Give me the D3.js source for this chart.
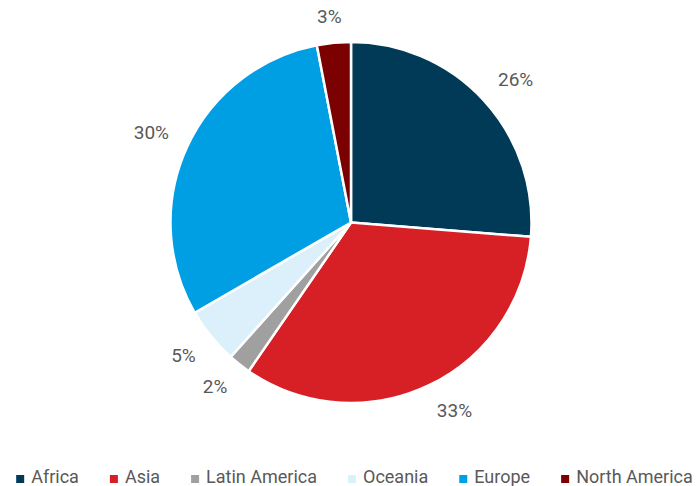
<!DOCTYPE html>
<html>
<head>
<meta charset="utf-8">
<script src="https://cdn.jsdelivr.net/npm/d3@7"></script>
<style>
  html, body { margin: 0; padding: 0; background: #fff; }
  svg text { font-family: Roboto, "Noto Sans", sans-serif; fill: #595959; }
</style>
</head>
<body>
<svg id="chart" width="699" height="486"></svg>
<script>
// Share of total by region (percent)
const regions = ["Africa", "Asia", "Latin America", "Oceania", "Europe", "North America"];
const shares = [26, 33, 2, 5, 30, 3];
const colors = ["#003a57", "#d71f26", "#a0a0a0", "#dcf0fb", "#009fe3", "#7b0000"];

const width = 699, height = 486;
const cx = 351, cy = 222.5, radius = 180.5, labelRadius = 200;

const svg = d3.select("#chart");
const data = regions.map((r, i) => ({ region: r, value: shares[i], color: colors[i] }));

const pie = d3.pie().sort(null).value(d => d.value);
const arc = d3.arc().innerRadius(0).outerRadius(radius);

const g = svg.append("g").attr("transform", `translate(${cx},${cy})`);
const arcs = pie(data);

g.selectAll("path.slice")
  .data(arcs)
  .join("path")
  .attr("class", "slice")
  .attr("d", arc)
  .attr("fill", d => d.data.color)
  .attr("stroke", "#fff")
  .attr("stroke-width", 2.5)
  .attr("stroke-linejoin", "round");

// Percentage labels: anchored just outside the rim, pushed away from the
// pie by up to half their box in each direction.
const clamp = v => Math.max(-1, Math.min(1, v));
const labels = g.selectAll("text.pct")
  .data(arcs)
  .join("text")
  .attr("class", "pct")
  .attr("text-anchor", "middle")
  .attr("dy", "0.35em")
  .style("font-size", "19px")
  .text(d => d.data.value + "%");

labels.each(function (d) {
  const a = (d.startAngle + d.endAngle) / 2;
  const s = Math.sin(a), c = -Math.cos(a);
  const bb = this.getBBox();
  const x = labelRadius * s + clamp(s * 2.3) * bb.width / 2;
  const y = labelRadius * c + clamp(c * 2.3) * 7;
  d3.select(this).attr("x", x).attr("y", y);
});

// Legend along the bottom
const legend = svg.append("g").attr("class", "legend");
const items = legend.selectAll("g.item")
  .data(data)
  .join("g")
  .attr("class", "item");

items.append("rect")
  .attr("width", 8).attr("height", 8)
  .attr("y", -8)
  .attr("fill", d => d.color);

items.append("text")
  .attr("x", 15)
  .attr("y", 0)
  .style("font-size", "18px")
  .text(d => d.region);

const gap = 31;
let x = 0;
items.each(function () {
  const w = this.getBBox().width;
  d3.select(this).attr("transform", `translate(${x},0)`);
  x += w + gap;
});
const total = x - gap;
legend.attr("transform", `translate(${(width - total) / 2 + 5},${483})`);
</script>
</body>
</html>
